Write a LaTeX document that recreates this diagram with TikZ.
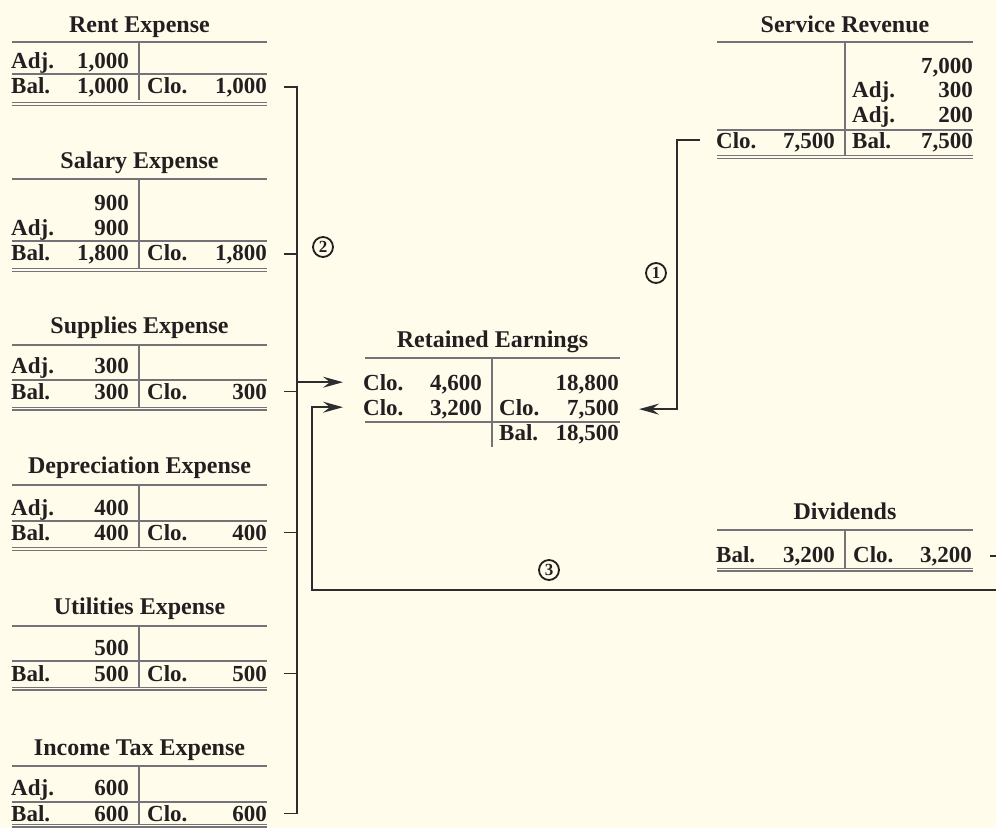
\documentclass[tikz,border=0pt]{standalone}
\usepackage{fontspec}
\setmainfont{Liberation Serif}
\usetikzlibrary{arrows.meta}
\definecolor{paper}{RGB}{255,252,236}
\definecolor{rule}{RGB}{115,115,120}
\definecolor{ink}{RGB}{35,31,32}
\definecolor{wire}{RGB}{45,45,45}

\begin{document}
\begin{tikzpicture}[x=1pt,y=-1pt,
    every node/.style={inner sep=0pt,text=ink},
    head/.style={anchor=base,font=\fontsize{24}{28}\selectfont\bfseries},
    lab/.style={anchor=base west,font=\fontsize{23}{26}\selectfont\bfseries},
    amt/.style={anchor=base east,font=\fontsize{23}{26}\selectfont\bfseries},
    topline/.style={draw=rule,line width=2.4pt},
    midline/.style={draw=rule,line width=1.6pt},
    dblline/.style={draw=rule,line width=1.4pt,double=paper,double distance=1.2pt},
    conn/.style={draw=wire,line width=1.4pt},
    arr/.style={conn,-{Stealth[length=20pt,width=11pt,inset=7pt]}},
    circ/.style={circle,draw=ink,line width=1.8pt,minimum size=20pt,
      font=\fontsize{17}{18}\selectfont\bfseries}]
    \useasboundingbox (0,0) rectangle (996,828);
    \clip (0,0) rectangle (996,828);
    \fill[paper] (0,0) rectangle (996,828);

    % Rent Expense
    \node[head] (rent) at (139.5,32) {Rent Expense};
    \draw[topline] (12,42) -- (267,42) (139,42) -- (139,100);
    \draw[midline] (12,74) -- (267,74);
    \draw[dblline] (12,104) -- (267,104);
    \node[lab] (rent-a) at (11,68) {Adj.};
    \node[amt] (rent-a1) at (129,68) {1,000};
    \node[lab] (rent-b) at (11,93) {Bal.};
    \node[amt] (rent-b1) at (129,93) {1,000};
    \node[lab] (rent-c) at (147,93) {Clo.};
    \node[amt] (rent-cr) at (267,93) {1,000};

    % Salary Expense
    \node[head] (sal) at (139.5,168) {Salary Expense};
    \draw[topline] (12,179) -- (267,179) (139,179) -- (139,268);
    \draw[midline] (12,241) -- (267,241);
    \draw[dblline] (12,270) -- (267,270);
    \node[amt] (sal-x1) at (129,210) {900};
    \node[lab] (sal-a) at (11,235) {Adj.};
    \node[amt] (sal-a1) at (129,235) {900};
    \node[lab] (sal-b) at (11,260) {Bal.};
    \node[amt] (sal-b1) at (129,260) {1,800};
    \node[lab] (sal-c) at (147,260) {Clo.};
    \node[amt] (sal-cr) at (267,260) {1,800};

    % Supplies Expense
    \node[head] (sup) at (139.5,333) {Supplies Expense};
    \draw[topline] (12,345) -- (267,345) (139,345) -- (139,407);
    \draw[midline] (12,380) -- (267,380);
    \draw[dblline] (12,408.5) -- (267,408.5);
    \node[lab] (sup-a) at (11,373) {Adj.};
    \node[amt] (sup-a1) at (129,373) {300};
    \node[lab] (sup-b) at (11,399) {Bal.};
    \node[amt] (sup-b1) at (129,399) {300};
    \node[lab] (sup-c) at (147,399) {Clo.};
    \node[amt] (sup-cr) at (267,399) {300};

    % Depreciation Expense
    \node[head] (dep) at (139.5,473) {Depreciation Expense};
    \draw[topline] (12,485) -- (267,485) (139,485) -- (139,548);
    \draw[midline] (12,521) -- (267,521);
    \draw[dblline] (12,549) -- (267,549);
    \node[lab] (dep-a) at (11,515) {Adj.};
    \node[amt] (dep-a1) at (129,515) {400};
    \node[lab] (dep-b) at (11,540) {Bal.};
    \node[amt] (dep-b1) at (129,540) {400};
    \node[lab] (dep-c) at (147,540) {Clo.};
    \node[amt] (dep-cr) at (267,540) {400};

    % Utilities Expense
    \node[head] (util) at (139.5,614) {Utilities Expense};
    \draw[topline] (12,626) -- (267,626) (139,626) -- (139,688);
    \draw[midline] (12,661) -- (267,661);
    \draw[dblline] (12,688.5) -- (267,688.5);
    \node[amt] (util-x1) at (129,655) {500};
    \node[lab] (util-b) at (11,681) {Bal.};
    \node[amt] (util-b1) at (129,681) {500};
    \node[lab] (util-c) at (147,681) {Clo.};
    \node[amt] (util-cr) at (267,681) {500};

    % Income Tax Expense
    \node[head] (tax) at (139.5,755) {Income Tax Expense};
    \draw[topline] (12,766) -- (267,766) (139,766) -- (139,826);
    \draw[midline] (12,802) -- (267,802);
    \draw[dblline] (12,825.5) -- (267,825.5);
    \node[lab] (tax-a) at (11,795) {Adj.};
    \node[amt] (tax-a1) at (129,795) {600};
    \node[lab] (tax-b) at (11,821) {Bal.};
    \node[amt] (tax-b1) at (129,821) {600};
    \node[lab] (tax-c) at (147,821) {Clo.};
    \node[amt] (tax-cr) at (267,821) {600};

    % Retained Earnings
    \node[head] (re) at (492.5,347) {Retained Earnings};
    \draw[topline] (365,358) -- (620,358) (492,358) -- (492,447);
    \draw[midline] (365,422) -- (620,422);
    \node[lab] (re-c1) at (363,390) {Clo.};
    \node[amt] (re-l1) at (482,390) {4,600};
    \node[amt] (re-r1) at (619,390) {18,800};
    \node[lab] (re-c2) at (363,415) {Clo.};
    \node[amt] (re-l2) at (482,415) {3,200};
    \node[lab] (re-d2) at (499,415) {Clo.};
    \node[amt] (re-r2) at (619,415) {7,500};
    \node[lab] (re-b3) at (499,440) {Bal.};
    \node[amt] (re-r3) at (619,440) {18,500};

    % Service Revenue
    \node[head] (sr) at (845,32) {Service Revenue};
    \draw[topline] (717,42) -- (973,42) (845,42) -- (845,157);
    \draw[midline] (717,130) -- (973,130);
    \draw[dblline] (717,157) -- (973,157);
    \node[amt] (sr-r1) at (973,73) {7,000};
    \node[lab] (sr-a2) at (852,97) {Adj.};
    \node[amt] (sr-r2) at (973,97) {300};
    \node[lab] (sr-a3) at (852,122) {Adj.};
    \node[amt] (sr-r3) at (973,122) {200};
    \node[lab] (sr-clo) at (716,148) {Clo.};
    \node[amt] (sr-l4) at (835,148) {7,500};
    \node[lab] (sr-b4) at (852,148) {Bal.};
    \node[amt] (sr-r4) at (973,148) {7,500};

    % Dividends
    \node[head] (div) at (845,519) {Dividends};
    \draw[topline] (717,530) -- (973,530) (845,530) -- (845,569);
    \draw[dblline] (717,569.5) -- (973,569.5);
    \node[lab] (div-b) at (716,562) {Bal.};
    \node[amt] (div-l) at (835,562) {3,200};
    \node[lab] (div-c) at (853,562) {Clo.};
    \node[amt] (div-cr) at (972,562) {3,200};

    % closing entries
    \coordinate (brk) at ([xshift=30pt]rent-cr.east);
    \coordinate (div-turn) at (312,590);
    \draw[conn] ([xshift=17pt]rent-cr.east) -| ([xshift=30pt]tax-cr.east) -- ([xshift=17pt]tax-cr.east);
    \draw[conn] ([xshift=17pt]sal-cr.east) -- ++(13,0);
    \draw[conn] ([xshift=17pt]sup-cr.east) -- ++(13,0);
    \draw[conn] ([xshift=17pt]dep-cr.east) -- ++(13,0);
    \draw[conn] ([xshift=17pt]util-cr.east) -- ++(13,0);
    \draw[arr] (brk |- re-c1.west) -- ([xshift=-20pt]re-c1.west);
    \draw[arr] ([xshift=-16pt]sr-clo.west) -- ++(-23,0) |- ([xshift=20pt]re-r2.east);
    \draw[arr] ([xshift=18pt]div-cr.east) -- ++(40,0) |- (div-turn) |- ([xshift=-20pt]re-c2.west);

    \node[circ] (n1) at (656,273) {1};
    \node[circ] (n2) at (323,247) {2};
    \node[circ] (n3) at (549,570) {3};
\end{tikzpicture}
\end{document}
